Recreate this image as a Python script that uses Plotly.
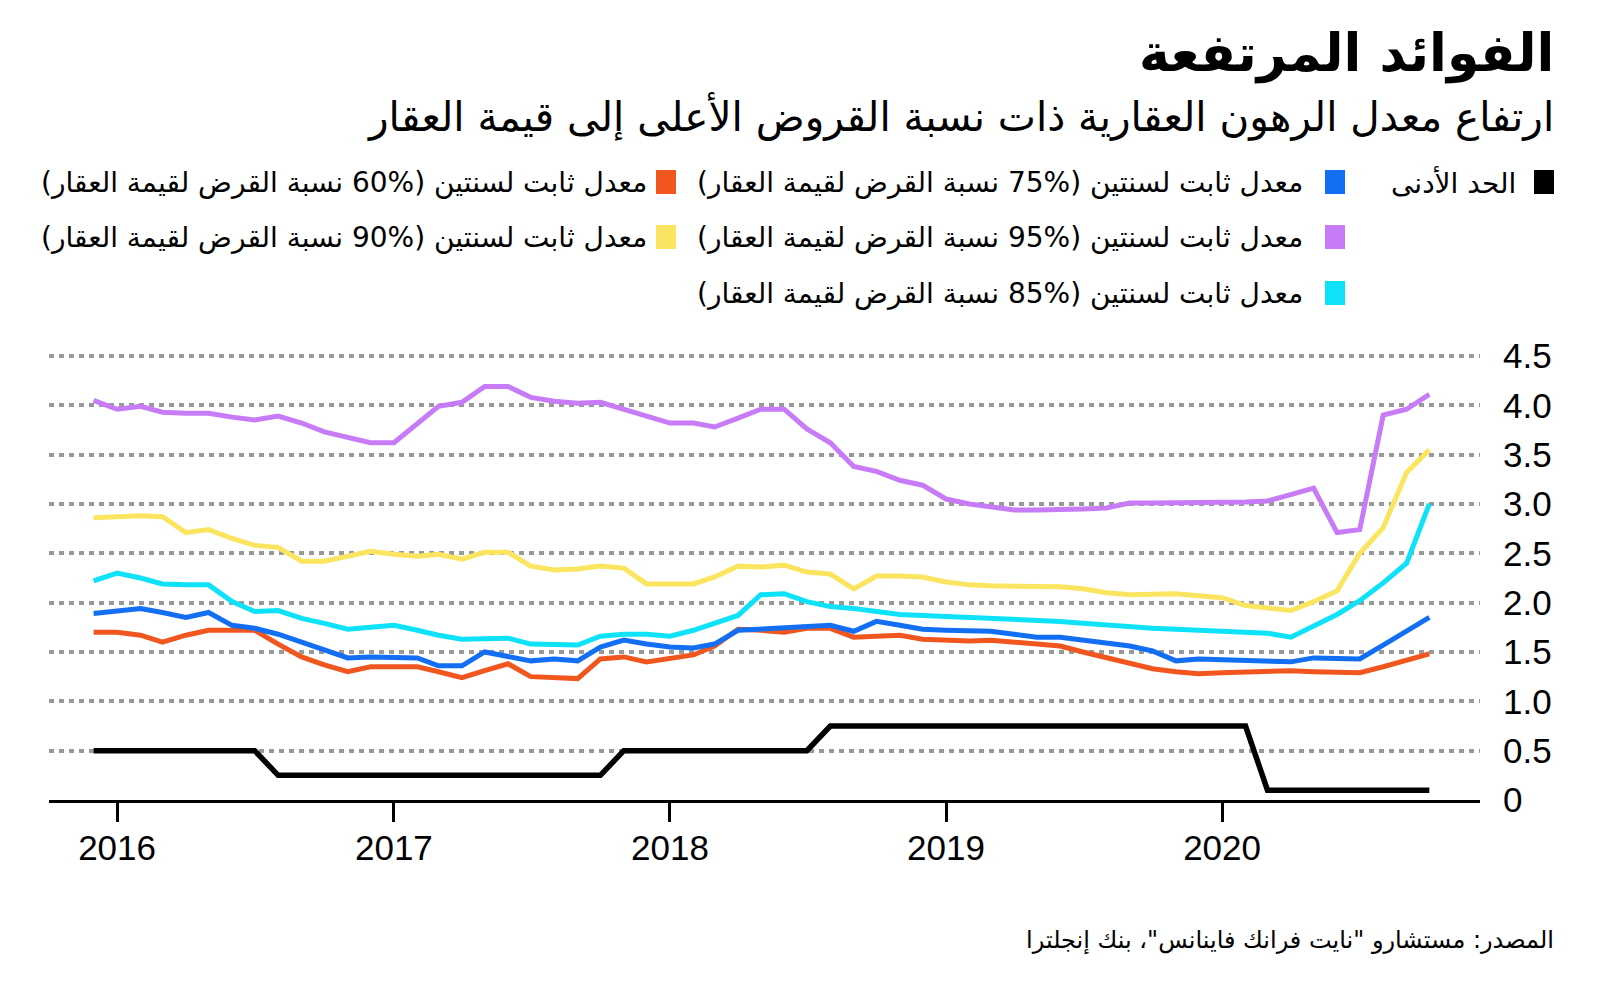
import plotly.graph_objects as go
import pandas as pd

# ---------------- data ----------------
start_month = "2015-12-01"
end_month = "2020-10-01"
dates = pd.date_range(start_month, end_month, freq="MS")

bank_rate = [0.5, 0.5, 0.5, 0.5, 0.5, 0.5, 0.5, 0.5,
             0.25, 0.25, 0.25, 0.25, 0.25, 0.25, 0.25, 0.25, 0.25, 0.25, 0.25, 0.25, 0.25, 0.25, 0.25,
             0.5, 0.5, 0.5, 0.5, 0.5, 0.5, 0.5, 0.5, 0.5,
             0.75, 0.75, 0.75, 0.75, 0.75, 0.75, 0.75, 0.75, 0.75, 0.75, 0.75, 0.75, 0.75, 0.75, 0.75,
             0.75, 0.75, 0.75, 0.75,
             0.1, 0.1, 0.1, 0.1, 0.1, 0.1, 0.1, 0.1]

ltv75 = [1.89, 1.92, 1.94, 1.90, 1.85, 1.90, 1.77, 1.74, 1.68, 1.60, 1.52, 1.44,
         1.45, 1.45, 1.44, 1.36, 1.36, 1.50, 1.46, 1.41, 1.43, 1.41, 1.55, 1.62,
         1.58, 1.55, 1.54, 1.58, 1.72, 1.73, 1.74, 1.76, 1.77, 1.71, 1.81, 1.77,
         1.73, 1.72, 1.72, 1.71, 1.68, 1.65, 1.65, 1.62, 1.59, 1.56, 1.51, 1.41,
         1.43, 1.42, 1.41, 1.41, 1.40, 1.44, 1.44, 1.43, 1.57, 1.71, 1.85]

ltv60 = [1.70, 1.70, 1.67, 1.60, 1.67, 1.72, 1.72, 1.72, 1.58, 1.45, 1.37, 1.30,
         1.35, 1.35, 1.35, 1.30, 1.24, 1.31, 1.38, 1.25, 1.24, 1.23, 1.43, 1.45,
         1.40, 1.43, 1.47, 1.56, 1.73, 1.72, 1.70, 1.74, 1.74, 1.65, 1.66, 1.67,
         1.63, 1.62, 1.61, 1.62, 1.60, 1.58, 1.56, 1.50, 1.44, 1.38, 1.33, 1.30,
         1.28, 1.29, 1.30, 1.30, 1.31, 1.30, 1.29, 1.29, 1.35, 1.41, 1.48]

ltv95 = [4.05, 3.96, 3.99, 3.93, 3.92, 3.92, 3.88, 3.85, 3.89, 3.82, 3.73, 3.67,
         3.62, 3.62, 3.81, 3.99, 4.03, 4.19, 4.19, 4.08, 4.04, 4.02, 4.03, 3.96,
         3.89, 3.82, 3.82, 3.78, 3.87, 3.96, 3.96, 3.76, 3.62, 3.38, 3.33, 3.24,
         3.19, 3.05, 3.00, 2.97, 2.94, 2.94, 2.94, 2.95, 2.96, 3.01, 3.01, 3.01,
         3.02, 3.02, 3.02, 3.03, 3.09, 3.16, 2.71, 2.74, 3.90, 3.96, 4.11]

ltv90 = [2.86, 2.87, 2.88, 2.87, 2.71, 2.74, 2.65, 2.58, 2.56, 2.42, 2.42, 2.47,
         2.52, 2.49, 2.47, 2.49, 2.44, 2.51, 2.51, 2.37, 2.33, 2.34, 2.37, 2.35,
         2.19, 2.19, 2.19, 2.26, 2.37, 2.36, 2.38, 2.31, 2.29, 2.14, 2.27, 2.27,
         2.26, 2.21, 2.18, 2.17, 2.17, 2.17, 2.16, 2.14, 2.10, 2.08, 2.08, 2.09,
         2.07, 2.05, 1.97, 1.94, 1.92, 2.01, 2.12, 2.50, 2.76, 3.32, 3.55]

ltv85 = [2.22, 2.30, 2.25, 2.19, 2.18, 2.18, 2.01, 1.91, 1.92, 1.84, 1.79, 1.73,
         1.75, 1.77, 1.72, 1.67, 1.63, 1.63, 1.64, 1.58, 1.57, 1.57, 1.66, 1.68,
         1.68, 1.66, 1.72, 1.79, 1.87, 2.08, 2.09, 2.01, 1.96, 1.94, 1.91, 1.88,
         1.87, 1.86, 1.85, 1.85, 1.84, 1.82, 1.81, 1.79, 1.77, 1.75, 1.74, 1.73,
         1.72, 1.71, 1.70, 1.69, 1.65, 1.76, 1.88, 2.02, 2.20, 2.40, 3.00]

name_bank = "الحد الأدنى"
name_75 = "معدل ثابت لسنتين (%75 نسبة القرض لقيمة العقار)"
name_60 = "معدل ثابت لسنتين (%60 نسبة القرض لقيمة العقار)"
name_95 = "معدل ثابت لسنتين (%95 نسبة القرض لقيمة العقار)"
name_90 = "معدل ثابت لسنتين (%90 نسبة القرض لقيمة العقار)"
name_85 = "معدل ثابت لسنتين (%85 نسبة القرض لقيمة العقار)"

title_text = "الفوائد المرتفعة"
subtitle_text = "ارتفاع معدل الرهون العقارية ذات نسبة القروض الأعلى إلى قيمة العقار"
source_text = "المصدر: مستشارو \"نايت فرانك فاينانس\"، بنك إنجلترا"

y_tickvals = [0, 0.5, 1.0, 1.5, 2.0, 2.5, 3.0, 3.5, 4.0, 4.5]
y_ticktext = ["0", "0.5", "1.0", "1.5", "2.0", "2.5", "3.0", "3.5", "4.0", "4.5"]
x_tickvals = ["2016-01-01", "2017-01-01", "2018-01-01", "2019-01-01", "2020-01-01"]
x_ticktext = ["2016", "2017", "2018", "2019", "2020"]

# ---------------- styling ----------------
C_BANK = "#000000"
C_75 = "#126ff3"
C_60 = "#f0561e"
C_95 = "#c77bf7"
C_90 = "#fbe560"
C_85 = "#0ee2f8"

AR_FONT = "DejaVu Sans"
NUM_FONT = "Liberation Sans, Arial, sans-serif"
RLM = "\u200f"

W, H = 1600, 988
L, R, T, B = 49, 120, 351, 188
PW = W - L - R
PH = H - T - B


def px(x):
    return (x - L) / PW


def py(y):
    return (H - B - y) / PH


fig = go.Figure()

series = [
    (name_60, ltv60, C_60, 5),
    (name_75, ltv75, C_75, 5),
    (name_85, ltv85, C_85, 5),
    (name_90, ltv90, C_90, 5),
    (name_95, ltv95, C_95, 5),
    (name_bank, bank_rate, C_BANK, 5.5),
]
for nm, vals, col, wd in series:
    fig.add_trace(go.Scatter(
        x=dates, y=vals, mode="lines", name=nm, showlegend=False,
        line=dict(color=col, width=wd),
        hoverinfo="skip",
    ))

annotations = []
shapes = []

# title / subtitle / source
annotations.append(dict(text="<b>" + title_text + "</b>", x=px(1556), y=py(53),
                        xref="paper", yref="paper", xanchor="right", yanchor="middle",
                        showarrow=False, font=dict(family=AR_FONT, size=52, color="#000")))
annotations.append(dict(text=RLM + subtitle_text + RLM, x=px(1556), y=py(116),
                        xref="paper", yref="paper", xanchor="right", yanchor="middle",
                        showarrow=False, font=dict(family=AR_FONT, size=40.5, color="#000")))
annotations.append(dict(text=RLM + source_text + RLM, x=px(1556), y=py(940),
                        xref="paper", yref="paper", xanchor="right", yanchor="middle",
                        showarrow=False, font=dict(family=AR_FONT, size=24, color="#000")))

# legend (manual, right-to-left)
legend_items = [
    (name_bank, C_BANK, 0, 0),
    (name_75, C_75, 1, 0),
    (name_60, C_60, 2, 0),
    (name_95, C_95, 1, 1),
    (name_90, C_90, 2, 1),
    (name_85, C_85, 1, 2),
]
sq_left = [1534, 1325, 656]
txt_right = [1518, 1305, 649]
row_y = [182, 237, 293]
for txt, col, c, r in legend_items:
    yc = row_y[r]
    shapes.append(dict(type="rect", xref="paper", yref="paper",
                       x0=px(sq_left[c]), x1=px(sq_left[c] + 20),
                       y0=py(yc - 12), y1=py(yc + 12),
                       fillcolor=col, line=dict(width=0)))
    annotations.append(dict(text=RLM + txt + RLM, x=px(txt_right[c]), y=py(yc),
                            xref="paper", yref="paper", xanchor="right", yanchor="middle",
                            showarrow=False, font=dict(family=AR_FONT, size=28, color="#000")))

fig.update_layout(
    width=W, height=H,
    margin=dict(l=L, r=R, t=T, b=B),
    paper_bgcolor="white", plot_bgcolor="white",
    annotations=annotations, shapes=shapes,
    xaxis=dict(
        type="date", range=["2015-10-03", "2020-12-07"],
        tickvals=x_tickvals, ticktext=x_ticktext,
        showgrid=False, zeroline=False,
        showline=True, linecolor="#000", linewidth=3,
        ticks="outside", ticklen=19, tickwidth=2.5, tickcolor="#000",
        tickfont=dict(family=NUM_FONT, size=35, color="#000"),
        ticklabelstandoff=-4,
    ),
    yaxis=dict(
        range=[0, 4.55], side="right",
        tickvals=y_tickvals, ticktext=y_ticktext,
        showgrid=True, gridcolor="#999999", gridwidth=3.5, griddash="5px,5px",
        zeroline=False, showline=False, ticks="",
        tickfont=dict(family=NUM_FONT, size=35, color="#000"),
        ticklabelstandoff=22,
    ),
)

fig.write_html("out.html", config={"displayModeBar": False},
               post_script="document.body.style.margin='0';")
